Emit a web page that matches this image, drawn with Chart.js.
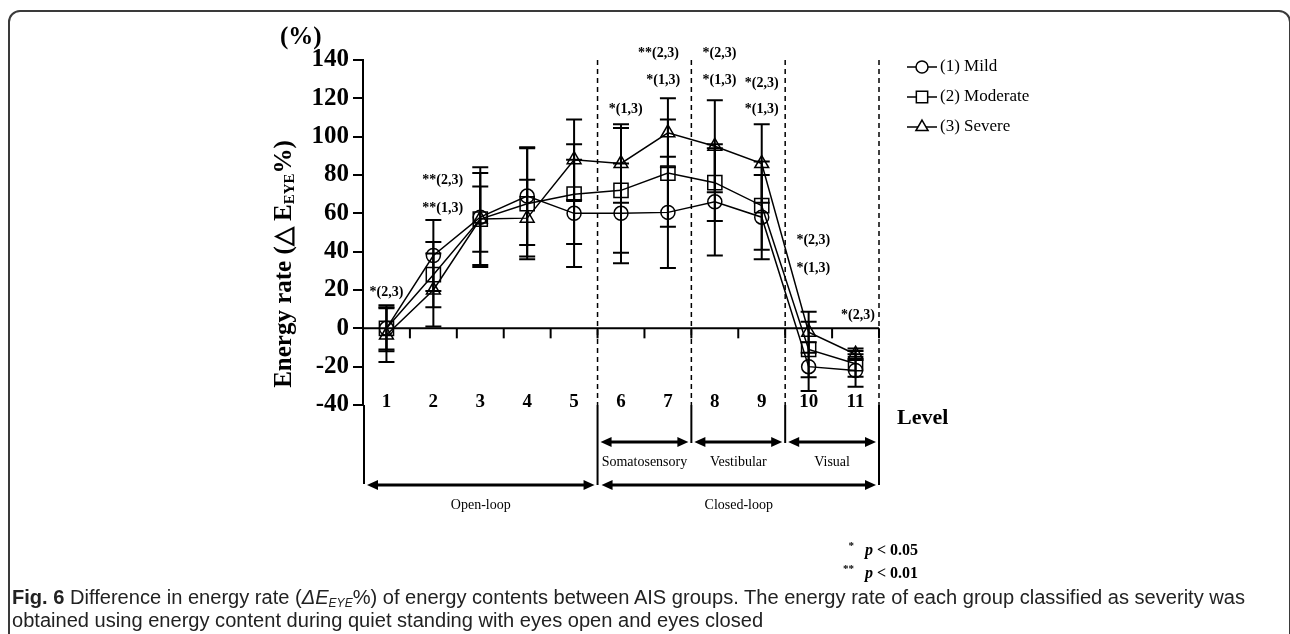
<!DOCTYPE html>
<html><head><meta charset="utf-8">
<script src="https://cdn.jsdelivr.net/npm/chart.js@4.4.1/dist/chart.umd.min.js"></script>
<style>
html,body{margin:0;padding:0;background:#fff;width:1290px;height:634px;overflow:hidden;}
#wrap{position:relative;width:1290px;height:634px;}
#c{position:absolute;left:0;top:0;}
#frame{position:absolute;left:8px;top:10px;width:1279px;height:700px;border:2px solid #3a3a3a;border-radius:12px;pointer-events:none;}
#caption{position:absolute;left:12px;top:586px;font-family:"Liberation Sans Narrow","Liberation Sans",sans-serif;font-size:20px;line-height:23px;color:#222;white-space:nowrap;transform-origin:0 0;}
#caption b{font-weight:bold;}
#caption sub{font-size:12px;vertical-align:-3px;line-height:0;}
</style></head>
<body><div id="wrap">
<canvas id="c" width="1290" height="634"></canvas>
<div id="frame"></div>
<div id="caption"><span id="l1"><b>Fig. 6</b> Difference in energy rate (<i>ΔE<sub>EYE</sub></i>%) of energy contents between AIS groups. The energy rate of each group classified as severity was</span><br><span>obtained using energy content during quiet standing with eyes open and eyes closed</span></div>
</div>
<script>
// ---- data ----
const levels = ['1','2','3','4','5','6','7','8','9','10','11'];
const seriesNames = ['(1) Mild','(2) Moderate','(3) Severe'];
const mild     = [0, 38, 58, 69, 60, 60, 60.5, 66, 58, -20, -22];
const moderate = [0, 28, 57, 65, 70, 72, 81, 76, 64, -11, -18.5];
const severe   = [-3.5, 20, 57, 57.5, 88, 86, 102, 95, 86, -2, -13.5];
const mildSD     = [11, 18.5, 26, 25.5, 28, 26, 29, 28, 22, 12.7, 8.5];
const moderateSD = [12, 17, 24, 29, 26, 32.5, 28, 20, 23, 14.5, 6.7];
const severeSD   = [14, 19, 17, 20, 21, 20.5, 18, 24, 20.5, 10.7, 3];
const yMin = -40, yMax = 140, yStep = 20;
// significance annotations: level position, value position, text
const annLevel = [1, 2.2, 2.2, 6.1, 6.8, 6.9, 8.1, 8.1, 9, 9, 10.1, 10.1, 11.05];
const annValue = [19, 77, 62.7, 114, 143.5, 129.5, 143.5, 129.5, 128, 114, 45.7, 31.5, 7];
const annText  = ['*(2,3)','**(2,3)','**(1,3)','*(1,3)','**(2,3)','*(1,3)','*(2,3)','*(1,3)','*(2,3)','*(1,3)','*(2,3)','*(1,3)','*(2,3)'];
// level groupings
const subNames = ['Somatosensory','Vestibular','Visual'];
const subStart = [6, 8, 10];
const subEnd   = [7, 9, 11];
const loopNames = ['Open-loop','Closed-loop'];
const loopStart = [1, 6];
const loopEnd   = [5, 11];
const sectionEnds = [5, 7, 9, 11];

const serif = "'Liberation Serif','Times New Roman',serif";
const styles = ['circle','rect','triangle'];
const radii = [7, 10, 8];
const legendRadii = [6, 8, 7];
const allVals = [mild, moderate, severe];
const allSD = [mildSD, moderateSD, severeSD];

function dblArrow(ctx, x1, x2, y) {
  const hl = 11, hw = 5;
  ctx.save();
  ctx.strokeStyle = '#000'; ctx.fillStyle = '#000'; ctx.lineWidth = 3;
  ctx.beginPath(); ctx.moveTo(x1 + hl - 2, y); ctx.lineTo(x2 - hl + 2, y); ctx.stroke();
  ctx.beginPath(); ctx.moveTo(x1, y); ctx.lineTo(x1 + hl, y - hw); ctx.lineTo(x1 + hl, y + hw); ctx.closePath(); ctx.fill();
  ctx.beginPath(); ctx.moveTo(x2, y); ctx.lineTo(x2 - hl, y - hw); ctx.lineTo(x2 - hl, y + hw); ctx.closePath(); ctx.fill();
  ctx.restore();
}
function vline(ctx, x, y1, y2, w, dash) {
  ctx.save(); ctx.strokeStyle = '#000'; ctx.lineWidth = w; ctx.setLineDash(dash || []);
  ctx.beginPath(); ctx.moveTo(x, y1); ctx.lineTo(x, y2); ctx.stroke(); ctx.restore();
}

const errorBars = {
  id: 'errorBars',
  beforeDatasetsDraw(chart) {
    const ctx = chart.ctx, x = chart.scales.x, y = chart.scales.y;
    ctx.save(); ctx.strokeStyle = '#000'; ctx.lineWidth = 2;
    allVals.forEach((vals, s) => {
      vals.forEach((v, i) => {
        const px = x.getPixelForValue(i);
        const top = y.getPixelForValue(v + allSD[s][i]);
        const bot = y.getPixelForValue(v - allSD[s][i]);
        ctx.beginPath();
        ctx.moveTo(px, top); ctx.lineTo(px, bot);
        ctx.moveTo(px - 8, top); ctx.lineTo(px + 8, top);
        ctx.moveTo(px - 8, bot); ctx.lineTo(px + 8, bot);
        ctx.stroke();
      });
    });
    ctx.restore();
  }
};

const decor = {
  id: 'decor',
  beforeDatasetsDraw(chart) {
    const ctx = chart.ctx, x = chart.scales.x, y = chart.scales.y, a = chart.chartArea;
    // dashed section separators (right edge of each section)
    sectionEnds.forEach(l => vline(ctx, x.getPixelForValue(l - 0.5), a.top, a.bottom, 1.5, [5, 4]));
    // zero axis line with ticks
    const y0 = y.getPixelForValue(0);
    ctx.save(); ctx.strokeStyle = '#000'; ctx.lineWidth = 2;
    ctx.beginPath(); ctx.moveTo(a.left, y0); ctx.lineTo(a.right, y0); ctx.stroke();
    for (let i = 0; i < levels.length; i++) {
      const tx = x.getPixelForValue(i + 0.5);
      ctx.beginPath(); ctx.moveTo(tx, y0); ctx.lineTo(tx, y0 + 10); ctx.stroke();
    }
    ctx.restore();
  },
  afterDraw(chart) {
    const ctx = chart.ctx, x = chart.scales.x, y = chart.scales.y, a = chart.chartArea;
    const b = a.bottom;
    // left edge pixel of a (1-based) level
    const edge = l => x.getPixelForValue(l - 1.5);
    // bottom structure lines
    vline(ctx, a.left + 1, b, b + 79, 2);
    vline(ctx, edge(6), b, b + 80, 2);
    vline(ctx, edge(8), b, b + 38, 2);
    vline(ctx, edge(10), b, b + 38, 2);
    vline(ctx, edge(12), b, b + 80, 2);
    ctx.fillStyle = '#000';
    ctx.textAlign = 'center'; ctx.textBaseline = 'middle';
    subNames.forEach((n, k) => {
      const x1 = edge(subStart[k]) + 3, x2 = edge(subEnd[k] + 1) - 3;
      dblArrow(ctx, x1, x2, b + 37);
      ctx.font = '14px ' + serif;
      ctx.fillText(n, (x1 + x2) / 2, b + 57);
    });
    loopNames.forEach((n, k) => {
      const x1 = edge(loopStart[k]) + 4, x2 = edge(loopEnd[k] + 1) - 3;
      dblArrow(ctx, x1, x2, b + 80);
      ctx.font = '14px ' + serif;
      ctx.fillText(n, (x1 + x2) / 2, b + 100);
    });
    // category labels
    ctx.font = 'bold 19px ' + serif;
    levels.forEach((l, i) => ctx.fillText(l, x.getPixelForValue(i), b - 3));
    // annotations
    ctx.font = 'bold 14px ' + serif;
    annText.forEach((t, i) => ctx.fillText(t, x.getPixelForValue(annLevel[i] - 1), y.getPixelForValue(annValue[i])));
    // "(%)" and "Level"
    ctx.textAlign = 'left';
    ctx.font = 'bold 25px ' + serif;
    ctx.fillText('(%)', a.left - 83, a.top - 22);
    ctx.font = 'bold 22px ' + serif;
    ctx.fillText('Level', a.right + 18, b + 13);
    // y title rotated
    ctx.save();
    ctx.translate(a.left - 78, 264);
    ctx.rotate(-Math.PI / 2);
    const fMain = 'bold 25px ' + serif, fSub = 'bold 15px ' + serif;
    const parts = [['Energy rate (\u25B3 E', fMain, 0], ['EYE', fSub, 5], ['%)', fMain, 0]];
    let tot = 0;
    parts.forEach(p => { ctx.font = p[1]; tot += ctx.measureText(p[0]).width; });
    let cx = -tot / 2;
    ctx.textAlign = 'left';
    parts.forEach(p => { ctx.font = p[1]; ctx.fillText(p[0], cx, p[2]); cx += ctx.measureText(p[0]).width; });
    ctx.restore();
    // legend
    seriesNames.forEach((n, s) => {
      const ly = a.top + 7 + s * 30;
      const lx = a.right + 28;
      ctx.save(); ctx.strokeStyle = '#000'; ctx.lineWidth = 1.5;
      ctx.beginPath(); ctx.moveTo(lx, ly); ctx.lineTo(lx + 30, ly); ctx.stroke();
      ctx.fillStyle = '#fff';
      Chart.helpers.drawPoint(ctx, {pointStyle: styles[s], radius: legendRadii[s], borderWidth: 1.5, rotation: 0}, lx + 15, ly);
      ctx.restore();
      ctx.fillStyle = '#000'; ctx.textAlign = 'left'; ctx.textBaseline = 'middle';
      ctx.font = '17px ' + serif;
      ctx.fillText(n, lx + 33, ly);
    });
    // p-value key
    const pk = [['*', '0.05', 551], ['**', '0.01', 574]];
    pk.forEach(p => {
      ctx.textAlign = 'right'; ctx.font = 'bold 11px ' + serif;
      ctx.fillText(p[0], a.right - 25, p[2] - 5);
      ctx.textAlign = 'left';
      ctx.font = 'italic bold 16px ' + serif;
      ctx.fillText('p', a.right - 14, p[2]);
      const w = ctx.measureText('p ').width;
      ctx.font = 'bold 16px ' + serif;
      ctx.fillText('< ' + p[1], a.right - 14 + w, p[2]);
    });
  }
};

const datasets = allVals.map((vals, s) => ({
  label: seriesNames[s],
  data: vals,
  borderColor: '#000',
  borderWidth: 1.5,
  pointStyle: styles[s],
  pointRadius: radii[s],
  pointBorderColor: '#000',
  pointBorderWidth: 1.5,
  pointBackgroundColor: 'rgba(255,255,255,0)',
  tension: 0,
  clip: false
}));

new Chart(document.getElementById('c'), {
  type: 'line',
  data: { labels: levels, datasets },
  options: {
    responsive: false,
    animation: false,
    devicePixelRatio: 1,
    layout: { padding: { left: 303, right: 411, top: 60, bottom: 229 } },
    plugins: { legend: { display: false }, tooltip: { enabled: false } },
    scales: {
      x: { type: 'category', offset: true, display: false },
      y: {
        min: yMin, max: yMax,
        afterFit: s => { s.width = 60; },
        border: { display: true, color: '#000', width: 2 },
        grid: { drawOnChartArea: false, drawTicks: true, tickLength: 10, color: '#000', lineWidth: 2 },
        ticks: { stepSize: yStep, color: '#000', padding: 4, font: { family: serif, weight: 'bold', size: 25 } }
      }
    }
  },
  plugins: [errorBars, decor]
});

// fit caption width to reference line length
const l1 = document.getElementById('l1');
const w1 = l1.getBoundingClientRect().width;
document.getElementById('caption').style.transform = 'scaleX(' + (1233 / w1) + ')';
</script>
</body></html>
